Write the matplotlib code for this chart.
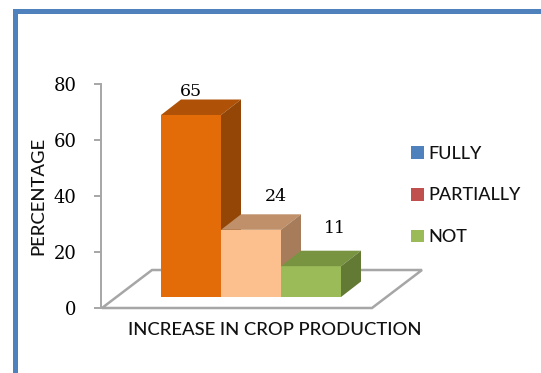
import matplotlib
matplotlib.use("Agg")
import matplotlib.pyplot as plt
from matplotlib.patches import Patch, Polygon, Rectangle

# Werte
categories = ["FULLY", "PARTIALLY", "NOT"]
values = [65, 24, 11]
yticks = [0, 20, 40, 60, 80]
xlabel = "INCREASE IN CROP PRODUCTION"
ylabel = "PERCENTAGE"

# Farben: Vorderseite, Deckel, rechte Seite
front_colors = ["#E36C09", "#FCC08F", "#9BBB59"]
top_colors = ["#AF5208", "#BF9069", "#789440"]
side_colors = ["#934606", "#A67C5B", "#637A35"]
legend_colors = ["#4F81BD", "#C0504D", "#9BBB59"]
grey = "#A6A6A6"
frame_blue = "#4F81BD"

W, H = 541, 373
# eine Balkenbreite = 60 px, ein Prozentpunkt = 2.8 px
X_PX, Y_PX = 60.0, 2.8
X0_PX, Y0_PX = 161, 308

# 3D-Versatz in Dateneinheiten
base = 11 / Y_PX
depth_x, depth_y = 20 / X_PX, 15.5 / Y_PX
floor_depth = 38 / Y_PX

# Versatz der Wertebeschriftung gegenueber der Balkenmitte
label_dx = [0.0, 0.42, 0.4]
label_dy = [2.9, 6.4, 7.9]

fig = plt.figure(figsize=(W / 100, H / 100), dpi=100, facecolor="white")
ax = fig.add_axes([0, 0, 1, 1])
ax.set_xlim(-X0_PX / X_PX, (W - X0_PX) / X_PX)
ax.set_ylim((Y0_PX - H) / Y_PX, Y0_PX / Y_PX)
ax.patch.set_visible(False)

# Rahmen oben und links
ax.add_patch(Rectangle((13 / W, 1 - 14 / H), 1 - 13 / W, 5 / H,
                       transform=ax.transAxes, color=frame_blue, lw=0))
ax.add_patch(Rectangle((13 / W, 0), 5 / W, 1 - 9 / H,
                       transform=ax.transAxes, color=frame_blue, lw=0))

# Boden
floor = [(-59 / X_PX, 0), (211 / X_PX, 0),
         (261 / X_PX, floor_depth), (-9 / X_PX, floor_depth)]
ax.add_patch(Polygon(floor, closed=True, facecolor="white", edgecolor=grey,
                     lw=1.8, zorder=1))

# Balken von hinten nach vorne
for i, v in enumerate(values):
    top = base + v
    ax.bar(i + 0.5, v, width=1.0, bottom=base, color=front_colors[i],
           zorder=3 + i)
    ax.add_patch(Polygon([(i, top), (i + depth_x, top + depth_y),
                          (i + 1 + depth_x, top + depth_y), (i + 1, top)],
                         facecolor=top_colors[i], lw=0, zorder=3 + i))
    ax.add_patch(Polygon([(i + 1, base), (i + 1, top),
                          (i + 1 + depth_x, top + depth_y),
                          (i + 1 + depth_x, base + depth_y)],
                         facecolor=side_colors[i], lw=0, zorder=3 + i))
    ax.text(i + 0.5 + label_dx[i], top + depth_y + label_dy[i], str(v),
            ha="center", va="center", family="DejaVu Serif",
            fontsize=12.5, color="black", zorder=10)

# y-Achse
for name in ["top", "right", "bottom"]:
    ax.spines[name].set_visible(False)
ax.spines["left"].set_position(("data", -60 / X_PX))
ax.spines["left"].set_bounds(0, 80)
ax.spines["left"].set_color(grey)
ax.spines["left"].set_linewidth(1.4)
ax.set_yticks(yticks)
ax.set_xticks([])
ax.tick_params(axis="y", length=5, width=1.4, color=grey, pad=12.5, labelsize=13)
for lab in ax.get_yticklabels():
    lab.set_family("DejaVu Serif")

ax.text(275 / W, 1 - 330 / H, xlabel, transform=ax.transAxes, ha="center",
        va="center", family="Lato", fontsize=13.3, fontweight=500, color="#111111")
ax.text(38 / W, 1 - 196 / H, ylabel, transform=ax.transAxes, ha="center",
        va="center", rotation=90, family="Lato", fontsize=13.3, fontweight=500,
        color="#111111")

handles = [Patch(facecolor=c, edgecolor="none") for c in legend_colors]
ax.legend(handles, categories, loc="center left",
          bbox_to_anchor=(411 / W, 1 - 195.5 / H), frameon=False,
          prop={"family": "Lato", "size": 13, "weight": 500}, handlelength=0.72,
          handleheight=0.7, handletextpad=0.22, labelspacing=1.42,
          borderpad=0, borderaxespad=0, labelcolor="#111111")

fig.savefig("out.png", dpi=100)
